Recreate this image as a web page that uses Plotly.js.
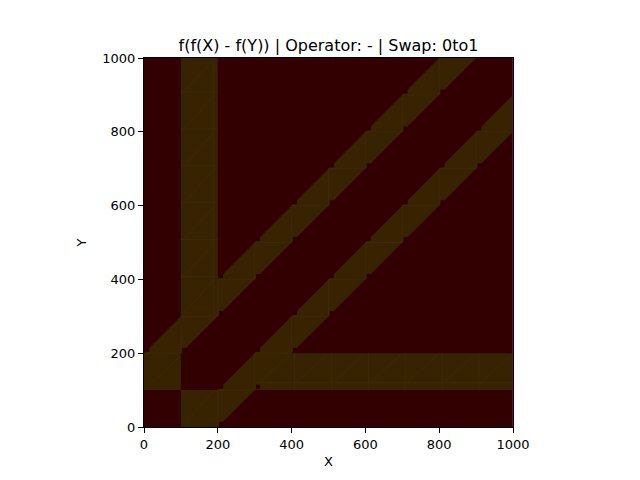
<!DOCTYPE html>
<html>
<head>
<meta charset="utf-8">
<script src="https://cdn.plot.ly/plotly-3.0.1.min.js"></script>
<style>html,body{margin:0;padding:0;background:#fff;}#chart{width:640px;height:480px;}</style>
</head>
<body>
<div id="chart"></div>
<script>
// Olive regions of the map (data coordinates of polygon vertices)
const vertTopX = [100, 200, 200, 100];
const vertTopY = [300, 300, 1000, 1000];
const vertBotX = [100, 200, 200, 100];
const vertBotY = [0, 0, 100, 100];
const horRightX = [300, 1000, 1000, 300];
const horRightY = [100, 100, 200, 200];
const horLeftX = [0, 100, 100, 0];
const horLeftY = [100, 100, 200, 200];
const diagUpX = [0, 900, 800, 0];
const diagUpY = [100, 1000, 1000, 200];
const diagLowX = [100, 200, 1000, 1000];
const diagLowY = [0, 0, 800, 900];
const edgeX = [997.5, 1000, 1000, 997.5];
const edgeY = [0, 0, 1000, 1000];

// small dark spots at lattice points along the diagonal bands
const spotX = [100,200,300,400,500,600,700,800, 0,200,300,400,500,600,700,
               200,300,400,500,600,700,800,900, 200,300,400,500,600,700,800,900];
const spotY = [200,300,400,500,600,700,800,900, 200,400,500,600,700,800,900,
               100,200,300,400,500,600,700,800, 0,100,200,300,400,500,600,700];

// faint lighter seams inside the olive bands: [x1, y1, x2, y2]
const seams = [
  // vertical band: cross seams, cell diagonals, side seam
  [100,408,200,408],[100,508,200,508],[100,608,200,608],[100,708,200,708],[100,808,200,808],[100,908,200,908],
  [112,312,188,396],[112,412,188,496],[112,512,188,596],[112,612,188,696],[112,712,188,796],[112,812,188,896],[112,912,188,996],
  [188,300,188,1000],
  [112,12,188,96],
  // left square of horizontal band
  [12,112,96,188],
  // horizontal band: cross seams, cell diagonals, side seam
  [408,100,408,200],[508,100,508,200],[608,100,608,200],[708,100,708,200],[808,100,808,200],[908,100,908,200],
  [312,120,396,196],[412,120,496,196],[512,120,596,196],[612,120,696,196],[712,120,796,196],[812,120,896,196],[912,120,996,196],
  [300,120,1000,120],
  // upper diagonal band grid seams
  [100,200,100,300],[200,300,200,400],[300,400,300,500],[400,500,400,600],[500,600,500,700],[600,700,600,800],[700,800,700,900],[800,900,800,1000],
  [0,200,100,200],[100,300,200,300],[200,400,300,400],[300,500,400,500],[400,600,500,600],[500,700,600,700],[600,800,700,800],[700,900,800,900],
  // lower diagonal band grid seams
  [200,100,300,100],[300,200,400,200],[400,300,500,300],[500,400,600,400],[600,500,700,500],[700,600,800,600],[800,700,900,700],[900,800,1000,800],
  [200,0,200,100],[300,100,300,200],[400,200,400,300],[500,300,500,400],[600,400,600,500],[700,500,700,600],[800,600,800,700],[900,700,900,800]
];

const tickVals = [0, 200, 400, 600, 800, 1000];

const bg = '#320000';
const olive = '#372300';
const seamColor = '#3c2905';

function poly(x, y, color) {
  return {x: x, y: y, type: 'scatter', mode: 'lines', fill: 'toself',
          fillcolor: color, line: {width: 0, color: color},
          hoverinfo: 'skip', showlegend: false};
}

const seamX = [], seamY = [];
seams.forEach(s => { seamX.push(s[0], s[2], null); seamY.push(s[1], s[3], null); });

const traces = [
  poly(vertTopX, vertTopY, olive),
  poly(vertBotX, vertBotY, olive),
  poly(horRightX, horRightY, olive),
  poly(horLeftX, horLeftY, olive),
  poly(diagUpX, diagUpY, olive),
  poly(diagLowX, diagLowY, olive),
  {x: seamX, y: seamY, type: 'scatter', mode: 'lines',
   line: {width: 1, color: seamColor}, hoverinfo: 'skip', showlegend: false},
  poly(edgeX, edgeY, '#6a0a48'),
  {x: spotX.map(v => v + 9), y: spotY.map(v => v + 9), type: 'scatter', mode: 'markers',
   marker: {symbol: 'square', size: 4, color: '#2c0002', line: {width: 0}},
   hoverinfo: 'skip', showlegend: false}
];

const axisCommon = {
  range: [0, 1000], tickvals: tickVals, ticktext: tickVals.map(String),
  ticks: 'outside', ticklen: 5, tickwidth: 1, tickcolor: '#000',
  showline: true, linecolor: '#000', linewidth: 1, mirror: true,
  showgrid: false, zeroline: false,
  tickfont: {family: 'DejaVu Sans', size: 13, color: '#000'}
};

const layout = {
  width: 640, height: 480,
  margin: {l: 144, r: 127, t: 58, b: 53},
  paper_bgcolor: '#fff', plot_bgcolor: bg,
  title: {text: 'f(f(X) - f(Y)) | Operator: - | Swap: 0to1',
          font: {family: 'DejaVu Sans', size: 16, color: '#000'},
          x: 0.5, xref: 'paper', y: 1, yref: 'paper', yanchor: 'bottom', pad: {b: 7}},
  xaxis: Object.assign({}, axisCommon, {title: {text: 'X', standoff: 6,
          font: {family: 'DejaVu Sans', size: 13, color: '#000'}}}),
  yaxis: Object.assign({}, axisCommon, {title: {text: 'Y', standoff: 12,
          font: {family: 'DejaVu Sans', size: 13, color: '#000'}}}),
  showlegend: false
};

Plotly.newPlot('chart', traces, layout, {staticPlot: true, displayModeBar: false});
</script>
</body>
</html>
